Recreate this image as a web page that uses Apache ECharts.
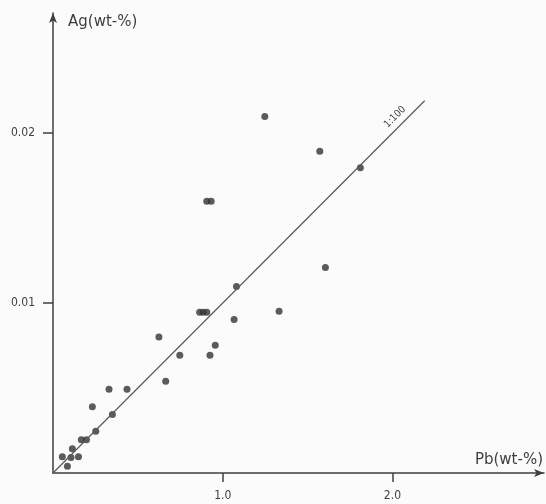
<!DOCTYPE html>
<html>
<head>
<meta charset="utf-8">
<script src="https://cdn.jsdelivr.net/npm/echarts@6/dist/echarts.min.js"></script>
<style>
  html, body { margin: 0; padding: 0; background: #fbfbfb; }
  #chart { width: 546px; height: 504px; }
</style>
</head>
<body>
<div id="chart"></div>
<script>
// Pb (wt-%) and Ag (wt-%)
var pb = [1.248, 1.572, 1.811, 0.906, 0.932, 1.605, 1.081, 0.864, 0.885, 0.906,
          1.332, 1.067, 0.624, 0.956, 0.747, 0.925, 0.664, 0.330, 0.436, 0.232,
          0.350, 0.252, 0.167, 0.197, 0.114, 0.055, 0.106, 0.150, 0.085];
var ag = [0.02097, 0.01893, 0.01795, 0.01599, 0.01599, 0.01209, 0.01097, 0.00946, 0.00946, 0.00946,
          0.00952, 0.00903, 0.00800, 0.00751, 0.00692, 0.00692, 0.00539, 0.00493, 0.00493, 0.00389,
          0.00344, 0.00246, 0.00195, 0.00195, 0.00142, 0.00095, 0.00091, 0.00095, 0.00040];

// 1:100 reference line
var linePb = [0, 2.19];
var lineAg = [0, 0.0219];

var xTicks = [1, 2];
var xTickLabels = ['1.0', '2.0'];
var yTicks = [0.01, 0.02];
var yTickLabels = ['0.01', '0.02'];

var ink = '#3f3f3f';
var font = 'DejaVu Sans';
var fontNarrow = 'DejaVu Sans Condensed';

var points = pb.map(function (v, i) { return [v, ag[i]]; });
var linePts = linePb.map(function (v, i) { return [v, lineAg[i]]; });

var option = {
    backgroundColor: '#fbfbfb',
    animation: false,
    grid: { left: 53, right: 2, top: 13, bottom: 31 },
    xAxis: {
        type: 'value',
        min: 0,
        max: 2.893,
        name: 'Pb(wt-%)',
        nameLocation: 'end',
        nameGap: 0,
        nameTextStyle: { color: ink, fontFamily: font, fontSize: 15, align: 'right', verticalAlign: 'bottom', padding: [0, 1, 5, 0] },
        axisLine: { lineStyle: { color: ink, width: 1.5 }, symbol: ['none', 'arrow'], symbolSize: [6, 10] },
        axisTick: { customValues: xTicks, length: 9, lineStyle: { color: ink, width: 1.5 } },
        axisLabel: {
            customValues: xTicks,
            margin: 17,
            color: ink, fontFamily: fontNarrow, fontSize: 12,
            formatter: function (v) { return xTickLabels[xTicks.indexOf(Math.round(v))]; }
        },
        splitLine: { show: false }
    },
    yAxis: {
        type: 'value',
        min: 0,
        max: 0.02706,
        name: 'Ag(wt-%)',
        nameLocation: 'end',
        nameGap: -17,
        nameTextStyle: { color: ink, fontFamily: font, fontSize: 15, align: 'left', padding: [0, 0, 0, 15] },
        axisLine: { lineStyle: { color: ink, width: 1.5 }, symbol: ['none', 'arrow'], symbolSize: [6, 10] },
        axisTick: { customValues: yTicks, length: 10, lineStyle: { color: ink, width: 1.5 } },
        axisLabel: {
            customValues: yTicks,
            margin: 18,
            color: ink, fontFamily: fontNarrow, fontSize: 12,
            formatter: function (v) { return yTickLabels[yTicks.indexOf(Math.round(v * 100) / 100)]; }
        },
        splitLine: { show: false }
    },
    graphic: [{
        type: 'text',
        x: 395, y: 117,
        rotation: Math.PI / 4,
        style: { text: '1:100', fill: ink, font: '10px "' + fontNarrow + '"', align: 'center', verticalAlign: 'middle' }
    }],
    series: [
        {
            type: 'line',
            data: linePts,
            showSymbol: false,
            silent: true,
            lineStyle: { color: '#5a5a5a', width: 1.2 }
        },
        {
            type: 'scatter',
            data: points,
            symbolSize: 7,
            itemStyle: { color: '#333' }
        }
    ]
};

var chart = echarts.init(document.getElementById('chart'));
chart.setOption(option);
</script>
</body>
</html>
